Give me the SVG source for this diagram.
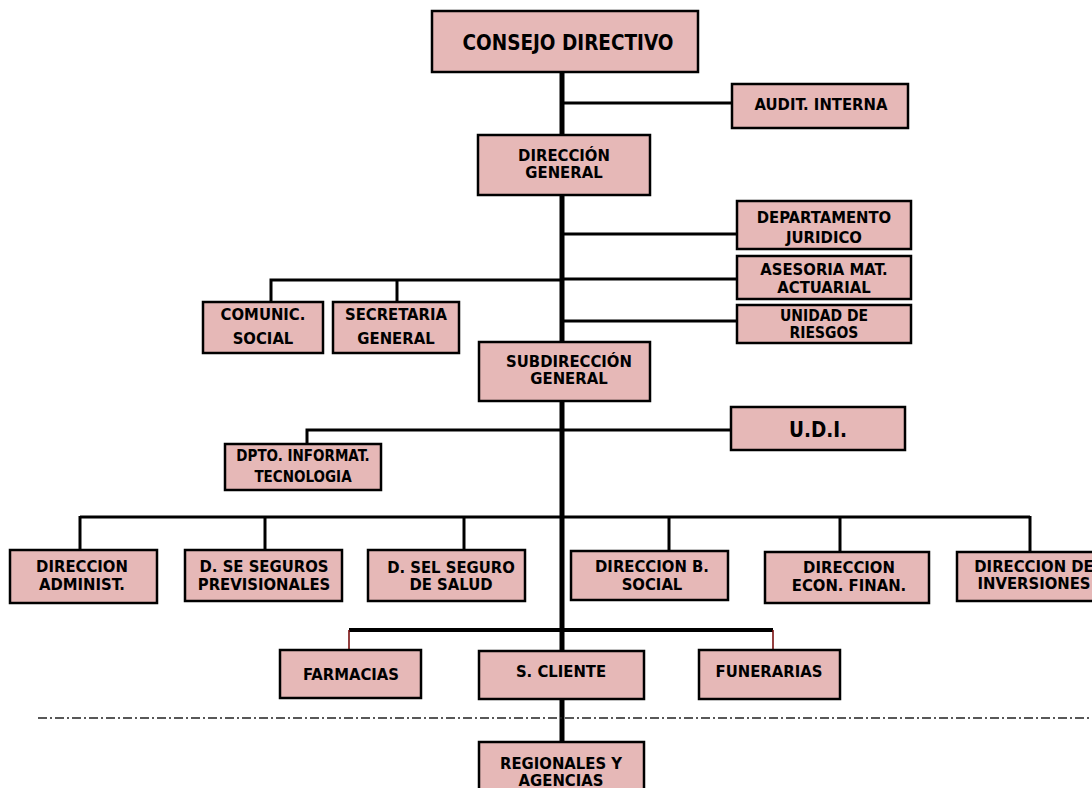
<svg xmlns="http://www.w3.org/2000/svg" width="1092" height="788" viewBox="0 0 1092 788">
  <style>
    .box { fill: #e6b8b7; stroke: #000; stroke-width: 2.5; }
    .lbl { font-family: "DejaVu Sans Condensed", "Liberation Sans", sans-serif; font-weight: bold; font-size: 16.5px; fill: #000; text-anchor: middle; }
    .sm { font-size: 15px; }
    .tight { font-size: 15.5px; }
    .lg { font-size: 20.5px; }
    .trunk { stroke: #000; stroke-width: 5; fill: none; }
    .link { stroke: #000; stroke-width: 3; fill: none; }
    .thin { stroke: #7a1010; stroke-width: 1.6; fill: none; }
    .sep { stroke: #222; stroke-width: 1.6; stroke-dasharray: 9 3 2 3; fill: none; }
  </style>
  <rect width="1092" height="788" fill="#fff"/>

  <g id="connectors">
    <!-- main trunk -->
    <line class="trunk" x1="562" y1="72" x2="562" y2="742"/>
    <!-- staff units on the right -->
    <line class="link" x1="562" y1="103" x2="732" y2="103"/>
    <line class="link" x1="562" y1="234" x2="737" y2="234"/>
    <line class="link" x1="562" y1="279" x2="737" y2="279"/>
    <line class="link" x1="562" y1="321" x2="737" y2="321"/>
    <!-- left branch: communication / secretariat -->
    <polyline class="link" points="271,302 271,280 562,280"/>
    <line class="link" x1="397" y1="280" x2="397" y2="302"/>
    <!-- informatics / U.D.I. -->
    <polyline class="link" points="307,444 307,430 731,430"/>
    <!-- directorates bus -->
    <line class="link" x1="80" y1="517" x2="1030" y2="517"/>
    <line class="link" x1="80" y1="516" x2="80" y2="550"/>
    <line class="link" x1="265" y1="517" x2="265" y2="550"/>
    <line class="link" x1="464" y1="517" x2="464" y2="550"/>
    <line class="link" x1="669" y1="517" x2="669" y2="551"/>
    <line class="link" x1="840" y1="517" x2="840" y2="552"/>
    <line class="link" x1="1030" y1="516" x2="1030" y2="552"/>
    <!-- services bus -->
    <line class="trunk" x1="349" y1="630" x2="773" y2="630" style="stroke-width:4"/>
    <line class="thin" x1="349" y1="630" x2="349" y2="650"/>
    <line class="thin" x1="773" y1="630" x2="773" y2="650"/>
    <!-- regional separator -->
    <line class="sep" x1="38" y1="718" x2="1092" y2="718"/>
  </g>

  <g id="consejo-directivo">
    <rect class="box" x="432" y="11" width="266" height="61"/>
    <text class="lbl lg" x="568" y="50">CONSEJO DIRECTIVO</text>
  </g>
  <g id="audit-interna">
    <rect class="box" x="732" y="84" width="176" height="44"/>
    <text class="lbl" x="821" y="110">AUDIT. INTERNA</text>
  </g>
  <g id="direccion-general">
    <rect class="box" x="478" y="135" width="172" height="60"/>
    <text class="lbl" x="564" y="161">DIRECCIÓN</text>
    <text class="lbl" x="564" y="178">GENERAL</text>
  </g>
  <g id="depto-juridico">
    <rect class="box" x="737" y="201" width="174" height="48"/>
    <text class="lbl" x="824" y="223">DEPARTAMENTO</text>
    <text class="lbl" x="824" y="243">JURIDICO</text>
  </g>
  <g id="asesoria-actuarial">
    <rect class="box" x="737" y="256" width="174" height="43"/>
    <text class="lbl" x="824" y="275">ASESORIA MAT.</text>
    <text class="lbl" x="824" y="293">ACTUARIAL</text>
  </g>
  <g id="unidad-riesgos">
    <rect class="box" x="737" y="305" width="174" height="38"/>
    <text class="lbl tight" x="824" y="321">UNIDAD DE</text>
    <text class="lbl tight" x="824" y="338">RIESGOS</text>
  </g>
  <g id="comunic-social">
    <rect class="box" x="203" y="302" width="120" height="51"/>
    <text class="lbl" x="263" y="320">COMUNIC.</text>
    <text class="lbl" x="263" y="344">SOCIAL</text>
  </g>
  <g id="secretaria-general">
    <rect class="box" x="333" y="302" width="126" height="51"/>
    <text class="lbl" x="396" y="320">SECRETARIA</text>
    <text class="lbl" x="396" y="344">GENERAL</text>
  </g>
  <g id="subdireccion-general">
    <rect class="box" x="479" y="342" width="171" height="59"/>
    <text class="lbl" x="569" y="367">SUBDIRECCIÓN</text>
    <text class="lbl" x="569" y="384">GENERAL</text>
  </g>
  <g id="udi">
    <rect class="box" x="731" y="407" width="174" height="43"/>
    <text class="lbl lg" x="818" y="437">U.D.I.</text>
  </g>
  <g id="dpto-informat">
    <rect class="box" x="225" y="444" width="156" height="46"/>
    <text class="lbl sm" x="303" y="461">DPTO. INFORMAT.</text>
    <text class="lbl sm" x="303" y="482">TECNOLOGIA</text>
  </g>
  <g id="direccion-administ">
    <rect class="box" x="10" y="550" width="147" height="53"/>
    <text class="lbl" x="82" y="572">DIRECCION</text>
    <text class="lbl" x="82" y="590">ADMINIST.</text>
  </g>
  <g id="seguros-previsionales">
    <rect class="box" x="185" y="550" width="157" height="51"/>
    <text class="lbl" x="264" y="572">D. SE SEGUROS</text>
    <text class="lbl" x="264" y="590">PREVISIONALES</text>
  </g>
  <g id="seguro-salud">
    <rect class="box" x="368" y="550" width="157" height="51"/>
    <text class="lbl" x="451" y="573">D. SEL SEGURO</text>
    <text class="lbl" x="451" y="590">DE SALUD</text>
  </g>
  <g id="direccion-b-social">
    <rect class="box" x="571" y="551" width="157" height="49"/>
    <text class="lbl" x="652" y="572">DIRECCION B.</text>
    <text class="lbl" x="652" y="590">SOCIAL</text>
  </g>
  <g id="direccion-econ-finan">
    <rect class="box" x="765" y="552" width="164" height="51"/>
    <text class="lbl" x="849" y="573">DIRECCION</text>
    <text class="lbl" x="849" y="591">ECON. FINAN.</text>
  </g>
  <g id="direccion-inversiones">
    <rect class="box" x="957" y="552" width="150" height="49"/>
    <text class="lbl" x="1034" y="572">DIRECCION DE</text>
    <text class="lbl" x="1034" y="589">INVERSIONES</text>
  </g>
  <g id="farmacias">
    <rect class="box" x="280" y="650" width="141" height="48"/>
    <text class="lbl" x="351" y="680">FARMACIAS</text>
  </g>
  <g id="s-cliente">
    <rect class="box" x="479" y="651" width="165" height="48"/>
    <text class="lbl" x="561" y="677">S. CLIENTE</text>
  </g>
  <g id="funerarias">
    <rect class="box" x="699" y="650" width="141" height="49"/>
    <text class="lbl" x="769" y="677">FUNERARIAS</text>
  </g>
  <g id="regionales-agencias">
    <rect class="box" x="479" y="742" width="165" height="52"/>
    <text class="lbl" x="561" y="769">REGIONALES Y</text>
    <text class="lbl" x="561" y="786">AGENCIAS</text>
  </g>
</svg>
